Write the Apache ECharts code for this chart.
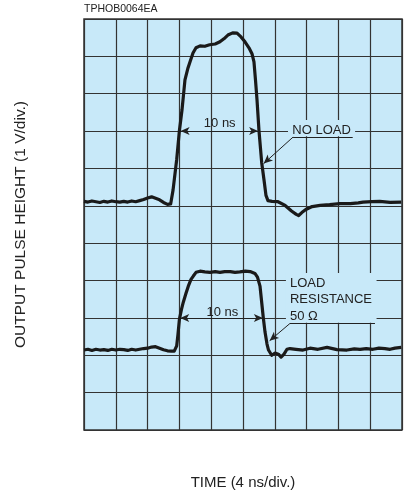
<!DOCTYPE html>
<html><head><meta charset="utf-8">
<script src="https://cdn.jsdelivr.net/npm/echarts@6/dist/echarts.min.js"></script>
<style>html,body{margin:0;padding:0;background:#fff;overflow:hidden}#c{width:404px;height:495px}</style>
</head><body><div id="c"></div>
<script>
// Time axis: 0..40 ns (4 ns/div), voltage axis: 0..11 V (1 V/div)
const xTicks = [0, 4, 8, 12, 16, 20, 24, 28, 32, 36, 40];
const yTicks = [0, 1, 2, 3, 4, 5, 6, 7, 8, 9, 10, 11];
const noLoadTrace = [
 [0,6.12],[0.5,6.10],[1,6.13],[1.5,6.11],[2,6.09],[2.5,6.12],[3,6.10],[3.5,6.13],[4,6.11],[4.5,6.10],
 [5,6.12],[5.5,6.10],[6,6.13],[6.5,6.11],[7,6.14],[7.5,6.17],[8,6.21],[8.5,6.24],[9,6.20],[9.5,6.16],
 [10,6.09],[10.5,6.04],[10.9,6.05],[11.2,6.42],[11.66,7.24],[12.0,8.01],[12.33,8.57],[12.7,9.37],
 [13.08,9.69],[13.33,9.85],[13.71,10.09],[14.09,10.23],[14.6,10.28],[15.2,10.27],[15.8,10.31],
 [16.5,10.33],[17.1,10.39],[17.6,10.47],[18.1,10.57],[18.7,10.63],[19.25,10.62],[19.75,10.52],
 [20.25,10.39],[20.75,10.23],[21.13,10.07],[21.38,9.85],[21.57,9.37],[21.76,8.84],[22.01,8.01],
 [22.35,7.16],[22.64,6.70],[22.89,6.28],[23.14,6.14],[23.65,6.12],[24.4,6.11],[25.3,6.01],
 [26.1,5.86],[26.7,5.77],[27.0,5.74],[27.4,5.82],[27.9,5.90],[28.7,5.98],[29.7,6.01],[30.9,6.03],
 [32.2,6.06],[33.5,6.06],[34.5,6.08],[35.1,6.10],[36.2,6.11],[37.2,6.12],[38.5,6.09],[39.9,6.10]
];
const loadTrace = [
 [0,2.14],[0.5,2.16],[1,2.13],[1.5,2.16],[2,2.14],[2.5,2.15],[3,2.13],[3.5,2.16],[4,2.14],[4.5,2.16],
 [5,2.15],[5.5,2.13],[6,2.16],[6.5,2.14],[7,2.16],[7.5,2.18],[8,2.19],[8.5,2.22],[9,2.23],[9.5,2.19],
 [10,2.15],[10.5,2.12],[11,2.11],[11.35,2.11],[11.66,2.25],[11.82,2.56],[12.0,2.96],[12.26,3.23],
 [12.49,3.42],[12.83,3.66],[13.12,3.85],[13.46,4.03],[13.75,4.12],[14.09,4.22],[14.6,4.25],
 [15.2,4.23],[15.85,4.22],[16.5,4.24],[17.1,4.22],[17.7,4.24],[18.4,4.24],[19,4.22],[19.6,4.23],
 [20.3,4.25],[20.9,4.24],[21.5,4.19],[21.82,4.09],[22.14,3.85],[22.35,3.42],[22.55,3.01],
 [22.77,2.62],[23.02,2.30],[23.21,2.14],[23.61,2.00],[24.03,2.06],[24.45,2.03],[24.79,1.95],
 [25.16,2.03],[25.53,2.16],[25.91,2.18],[26.67,2.16],[27.55,2.14],[28.43,2.19],[29.43,2.16],
 [30.57,2.21],[31.82,2.15],[33.08,2.14],[34.0,2.17],[34.72,2.16],[35.5,2.18],[36.35,2.16],
 [37.1,2.19],[37.86,2.18],[38.5,2.16],[39.12,2.19],[39.9,2.21]
];
const chartTitle = 'TPHOB0064EA';
const xName = 'TIME (4 ns/div.)';
const yName = 'OUTPUT PULSE HEIGHT (1 V/div.)';
const widthLabel = '10 ns';
const noLoadLabel = 'NO LOAD';
const loadLabel = ['LOAD', 'RESISTANCE', '50 Ω'];

const FONT = '"Liberation Sans", Arial, Helvetica, sans-serif';
const TXT = '#222';
const BG = '#c8e9f9';
const chart = echarts.init(document.getElementById('c'), null, {renderer: 'canvas'});

const ann = (a, b, s0, s1) => [
  {coord: a, symbol: s0},
  {coord: b, symbol: s1}
];

chart.setOption({
  animation: false,
  backgroundColor: '#fff',
  title: {text: chartTitle, left: 84, top: 4, padding: 0,
    textStyle: {fontFamily: FONT, fontSize: 10.5, fontWeight: 'normal', color: TXT}},
  grid: {left: 84, right: 2, top: 19, bottom: 64, show: true,
    backgroundColor: BG, borderColor: '#333', borderWidth: 1.5},
  xAxis: {type: 'value', min: xTicks[0], max: xTicks[xTicks.length - 1], interval: 4,
    name: xName, nameLocation: 'middle', nameGap: 45,
    nameTextStyle: {fontFamily: FONT, fontSize: 15, color: TXT},
    axisLine: {show: false}, axisTick: {show: false}, axisLabel: {show: false},
    splitLine: {show: true, lineStyle: {color: '#333', width: 1.2}}},
  yAxis: {type: 'value', min: yTicks[0], max: yTicks[yTicks.length - 1], interval: 1,
    name: yName, nameLocation: 'middle', nameGap: 55, nameRotate: 90,
    nameTextStyle: {fontFamily: FONT, fontSize: 15.5, color: TXT},
    axisLine: {show: false}, axisTick: {show: false}, axisLabel: {show: false},
    splitLine: {show: true, lineStyle: {color: '#333', width: 1.2}}},
  series: [
    {type: 'line', data: noLoadTrace, showSymbol: false, symbol: 'none', z: 5,
     lineStyle: {color: '#1a1a1a', width: 3.2, join: 'round'},
     markLine: {silent: true, symbol: ['arrow', 'arrow'], symbolSize: [6, 9],
       label: {show: false}, lineStyle: {color: '#222', width: 1, type: 'solid'},
       data: [
         ann([12.15, 8], [21.9, 8], 'arrow', 'arrow'),
         ann([26.3, 7.84], [22.6, 7.13], 'none', 'arrow'),
         ann([26.3, 7.84], [33.8, 7.84], 'none', 'none')
       ]}},
    {type: 'line', data: loadTrace, showSymbol: false, symbol: 'none', z: 5,
     lineStyle: {color: '#1a1a1a', width: 3.2, join: 'round'},
     markLine: {silent: true, symbol: ['arrow', 'arrow'], symbolSize: [6, 9],
       label: {show: false}, lineStyle: {color: '#222', width: 1, type: 'solid'},
       data: [
         ann([12.1, 3], [22.5, 3], 'arrow', 'arrow'),
         ann([25.9, 2.85], [23.35, 2.39], 'none', 'arrow'),
         ann([25.9, 2.85], [36.6, 2.85], 'none', 'none')
       ]}}
  ]
});

const P = (t, v) => chart.convertToPixel({gridIndex: 0}, [t, v]);
const boxNo = [P(25.66, 8.3), P(34.1, 7.86)];
const boxLoad = [P(25.4, 4.2), P(36.8, 2.87)];
const tNS1 = P(17.07, 8.2), tNS2 = P(17.4, 3.15);
const tNo = P(26.2, 8.03);
const tLoad = P(25.9, 4.14);
const style = {fontFamily: FONT, fontSize: 13, fill: TXT};
chart.setOption({
  graphic: [
    {type: 'rect', z: 1, silent: true, shape: {x: boxNo[0][0], y: boxNo[0][1], width: boxNo[1][0]-boxNo[0][0], height: boxNo[1][1]-boxNo[0][1]}, style: {fill: BG}},
    {type: 'rect', z: 1, silent: true, shape: {x: boxLoad[0][0], y: boxLoad[0][1], width: boxLoad[1][0]-boxLoad[0][0], height: boxLoad[1][1]-boxLoad[0][1]}, style: {fill: BG}},
    {type: 'text', z: 10, x: tNS1[0], y: tNS1[1], style: Object.assign({text: widthLabel, align: 'center', verticalAlign: 'middle'}, style)},
    {type: 'text', z: 10, x: tNS2[0], y: tNS2[1], style: Object.assign({text: widthLabel, align: 'center', verticalAlign: 'middle'}, style)},
    {type: 'text', z: 10, x: tNo[0], y: tNo[1], style: Object.assign({text: noLoadLabel, align: 'left', verticalAlign: 'middle'}, style)},
    {type: 'text', z: 10, x: tLoad[0], y: tLoad[1], style: Object.assign({text: loadLabel.join('\n'), align: 'left', verticalAlign: 'top', lineHeight: 16.3}, style)}
  ]
});
</script></body></html>
